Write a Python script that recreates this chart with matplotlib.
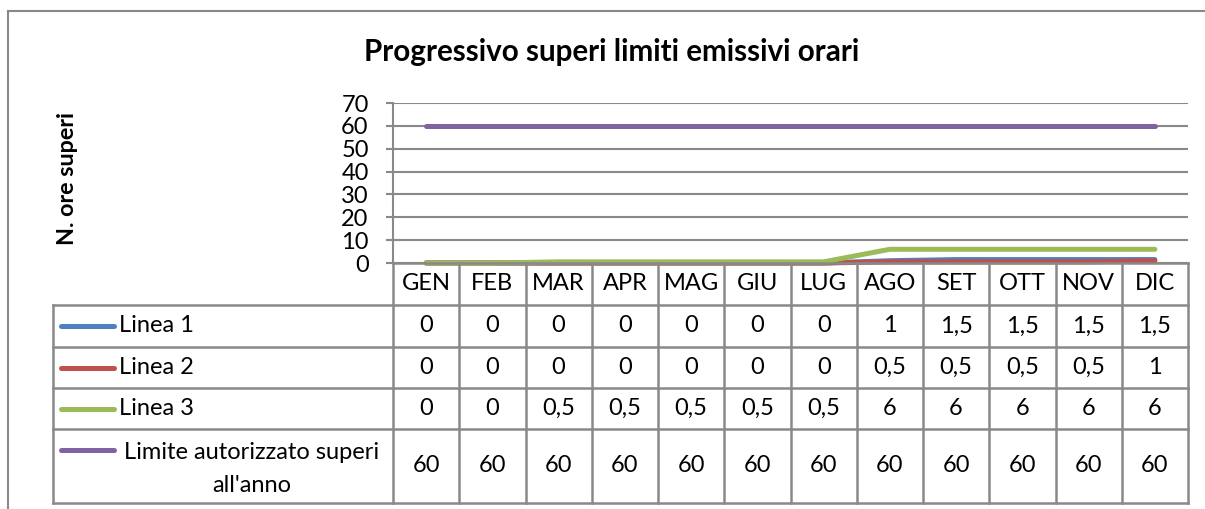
import matplotlib
matplotlib.use("Agg")
import matplotlib.pyplot as plt
import matplotlib.transforms as mtransforms
from matplotlib.lines import Line2D

plt.rcParams['font.family'] = ['Lato', 'DejaVu Sans']

months = ["GEN", "FEB", "MAR", "APR", "MAG", "GIU", "LUG", "AGO", "SET", "OTT", "NOV", "DIC"]
linea1 = [0, 0, 0, 0, 0, 0, 0, 1, 1.5, 1.5, 1.5, 1.5]
linea2 = [0, 0, 0, 0, 0, 0, 0, 0.5, 0.5, 0.5, 0.5, 1]
linea3 = [0, 0, 0.5, 0.5, 0.5, 0.5, 0.5, 6, 6, 6, 6, 6]
limite = [60] * 12
series_names = ["Linea 1", "Linea 2", "Linea 3", "Limite autorizzato superi\nall'anno"]
series_values = [linea1, linea2, linea3, limite]
colors = ["#4F81BD", "#C0504D", "#9BBB59", "#8064A2"]
yticks = [0, 10, 20, 30, 40, 50, 60, 70]

W, H = 1205, 509
fig = plt.figure(figsize=(W / 100, H / 100), dpi=100)

def fx(px):
    return px / W

def fy(py):
    return 1 - py / H

GRID = "#898989"
FS = 17

# outer frame
fig.add_artist(Line2D([fx(8), fx(8)], [fy(11), fy(520)], color=GRID, lw=1.5, transform=fig.transFigure))
fig.add_artist(Line2D([fx(8), fx(1215)], [fy(11), fy(11)], color=GRID, lw=1.5, transform=fig.transFigure))

ax_left, ax_right, ax_top, ax_bot = 393, 1188, 103, 263
ax = fig.add_axes([fx(ax_left), fy(ax_bot), fx(ax_right - ax_left), (ax_bot - ax_top) / H])
x = list(range(len(months)))
for vals, c in zip(series_values, colors):
    ax.plot(x, vals, color=c, lw=3.6, solid_capstyle='round', zorder=3, clip_on=False)

ax.set_xlim(-0.5, len(months) - 0.5)
ax.set_ylim(0, 70)
ax.set_yticks(yticks)
ax.set_yticklabels([str(v) for v in yticks], fontsize=FS)
ax.tick_params(axis='y', length=5, width=1.5, color=GRID, pad=12.5, direction='out')
ax.tick_params(axis='x', length=0, labelbottom=False)
ax.yaxis.grid(True, color=GRID, lw=1.5)
ax.set_axisbelow(True)
for s in ["top", "right", "bottom"]:
    ax.spines[s].set_visible(False)
ax.spines["left"].set_color(GRID)
ax.spines["left"].set_linewidth(1.5)

# title and y-label
fig.text(fx(612), fy(52), "Progressivo superi limiti emissivi orari", ha="center", va="center",
         fontsize=21.3, fontweight="bold")
fig.text(fx(68), fy(179), "N. ore superi", ha="center", va="center", rotation=90,
         fontsize=16.8, fontweight="bold")

# data table
blend = mtransforms.blended_transform_factory(ax.transData, fig.transFigure)
row_edges = [263, 305, 347, 388, 429, 503]
key_left = 53

fig.add_artist(Line2D([fx(ax_left), fx(ax_right)], [fy(263), fy(263)], color=GRID, lw=1.8, transform=fig.transFigure))
for r in row_edges[1:]:
    fig.add_artist(Line2D([fx(key_left), fx(ax_right)], [fy(r), fy(r)], color=GRID, lw=1.8, transform=fig.transFigure))
for i in range(len(months) + 1):
    fig.add_artist(Line2D([i - 0.5, i - 0.5], [fy(263), fy(503)], color=GRID, lw=1.8, transform=blend))
fig.add_artist(Line2D([fx(key_left), fx(key_left)], [fy(305), fy(503)], color=GRID, lw=1.8, transform=fig.transFigure))

for i, m in enumerate(months):
    fig.text(i, fy((263 + 305) / 2), m, ha="center", va="center", fontsize=FS, transform=blend)

def fmt(v):
    return ("%g" % v).replace(".", ",")

for k, (name, vals, c) in enumerate(zip(series_names, series_values, colors)):
    top, bot = row_edges[k + 1], row_edges[k + 2]
    yc = (top + bot) / 2
    for i, v in enumerate(vals):
        fig.text(i, fy(yc), fmt(v), ha="center", va="center", fontsize=FS, transform=blend)
    if "\n" in name:
        ly = 450
        fig.text(fx(252), fy(469), name, ha="center", va="center", fontsize=FS,
                 multialignment="center", linespacing=1.72)
    else:
        ly = yc
        fig.text(fx(119), fy(yc), name, ha="left", va="center", fontsize=FS)
    fig.add_artist(Line2D([fx(61), fx(114)], [fy(ly), fy(ly)], color=c, lw=3.6,
                          solid_capstyle='round', transform=fig.transFigure))

fig.savefig("out.png", dpi=100)
